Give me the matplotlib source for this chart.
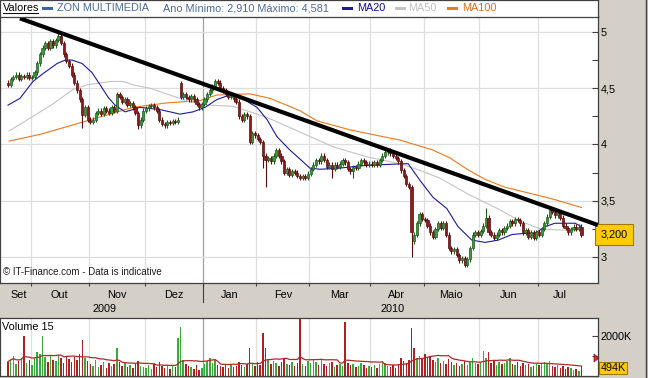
import numpy as np
import pandas as pd
import matplotlib
matplotlib.use('Agg')
import matplotlib.pyplot as plt
from matplotlib.patches import Rectangle, Polygon
from matplotlib.lines import Line2D
from matplotlib.ticker import FixedLocator, NullFormatter
import matplotlib.transforms as mtrans

plt.rcParams['font.family'] = ['Liberation Sans', 'DejaVu Sans']

# ---------------- data ----------------
start_date = '2009-09-18'
end_date = '2010-07-23'
holidays = ['2009-12-25', '2010-01-01', '2010-04-02', '2010-04-05']
month_names = ['Set', 'Out', 'Nov', 'Dez', 'Jan', 'Fev', 'Mar', 'Abr', 'Maio', 'Jun', 'Jul']
year_names = ['2009', '2010']

closes = [
    # Sep
    4.53, 4.58, 4.60, 4.62, 4.58, 4.61, 4.60, 4.62, 4.59,
    # Oct
    4.60, 4.64, 4.72, 4.80, 4.86, 4.90, 4.86, 4.92, 4.88, 4.93, 4.96, 4.90,
    4.80, 4.74, 4.70, 4.62, 4.55, 4.48, 4.40, 4.26, 4.33, 4.22,
    # Nov
    4.20, 4.22, 4.28, 4.30, 4.27, 4.32, 4.30, 4.28, 4.33, 4.30, 4.45, 4.42,
    4.38, 4.40, 4.35, 4.37, 4.33, 4.28, 4.17, 4.22, 4.30,
    # Dec
    4.32, 4.34, 4.35, 4.33, 4.30, 4.22, 4.18, 4.17, 4.20, 4.19, 4.21, 4.20,
    4.22, 4.42, 4.45, 4.42, 4.40, 4.43, 4.40, 4.36, 4.33, 4.36,
    # Jan
    4.40, 4.45, 4.48, 4.52, 4.56, 4.55, 4.50, 4.48, 4.45, 4.42, 4.43, 4.40,
    4.38, 4.25, 4.22, 4.27, 4.25, 4.02, 4.10, 4.08,
    # Feb
    4.05, 4.02, 3.90, 3.86, 3.88, 3.85, 3.90, 3.95, 3.90, 3.85, 3.75, 3.78,
    3.73, 3.76, 3.75, 3.72, 3.70, 3.72, 3.70, 3.74,
    # Mar
    3.78, 3.82, 3.86, 3.85, 3.90, 3.86, 3.80, 3.82, 3.78, 3.82, 3.80, 3.83,
    3.86, 3.84, 3.78, 3.76, 3.80, 3.79, 3.83, 3.86, 3.84, 3.82, 3.83,
    # Apr
    3.82, 3.84, 3.82, 3.86, 3.90, 3.93, 3.95, 3.92, 3.90, 3.88, 3.85, 3.77,
    3.72, 3.65, 3.62, 3.22, 3.20, 3.30, 3.38, 3.34,
    # May
    3.33, 3.28, 3.22, 3.18, 3.25, 3.30, 3.26, 3.30, 3.20, 3.08, 3.05, 3.07,
    3.02, 2.97, 2.99, 2.93, 2.98, 3.08, 3.20, 3.22, 3.20,
    # Jun
    3.23, 3.28, 3.35, 3.22, 3.20, 3.17, 3.20, 3.24, 3.22, 3.26, 3.28, 3.32,
    3.30, 3.34, 3.33, 3.30, 3.22, 3.24, 3.18, 3.22, 3.17, 3.22,
    # Jul
    3.20, 3.25, 3.30, 3.36, 3.42, 3.40, 3.37, 3.39, 3.35, 3.28, 3.26, 3.22,
    3.25, 3.27, 3.25, 3.27, 3.20,
]
first_open = 4.55
gap_opens = {65: 4.55, 153: 3.14}
high_values = {19: 5.00, 65: 4.56, 78: 4.58, 180: 3.44}
low_values = {28: 4.15, 49: 4.14, 96: 3.79, 97: 3.62, 122: 3.70, 130: 3.70, 152: 3.00, 172: 2.91}
wick_size = 0.02

volumes_k = [
    700, 850, 1000, 600, 750, 900, 2000, 650, 800,
    550, 900, 1200, 1100, 2000, 950, 700, 1000, 800, 750, 1050, 900, 650, 1000, 850,
    700, 950, 800, 1100, 1800, 900, 750,
    600, 500, 800, 450, 550, 700, 400, 650, 500, 600, 1400, 700, 500, 650, 450, 550,
    400, 600, 750, 500, 450,
    400, 550, 350, 600, 450, 700, 500, 400, 550, 350, 500, 450, 1900, 2450, 800, 600,
    500, 450, 350, 550, 300, 400,
    600, 750, 900, 650, 800, 550, 500, 450, 600, 400, 550, 450, 500, 700, 550, 450,
    600, 1400, 650, 500,
    700, 550, 2150, 1400, 800, 600, 750, 650, 500, 700, 900, 600, 550, 700, 500, 650,
    2850, 600, 500, 750,
    650, 800, 700, 550, 850, 600, 500, 650, 700, 450, 550, 600, 500, 2700, 650, 550,
    600, 450, 500, 650, 550, 400, 500,
    450, 550, 400, 600, 750, 650, 500, 450, 550, 400, 600, 900, 750, 650, 800, 2400,
    1400, 900, 1000, 850,
    1100, 950, 1000, 800, 700, 900, 650, 750, 600, 850, 700, 550, 650, 500, 600, 750,
    550, 700, 900, 650, 600,
    700, 1250, 900, 1200, 650, 800, 550, 700, 600, 650, 750, 900, 600, 550, 700, 500,
    650, 550, 600, 450, 500, 600,
    550, 650, 700, 600, 750, 500, 450, 550, 400, 500, 350, 450, 400, 300, 350, 250, 494,
]
vol_ma_window = 15

ma20_idx = [0, 4.5, 9.4, 13.2, 18.5, 21.5, 24.1, 27.9, 31.6, 34.7, 37.7, 40.3, 44.1, 49.7,
            57.3, 64.8, 69.7, 74.2, 78.7, 83.6, 88.1, 93.8, 97.6, 101.3, 106.2, 110, 113.7,
            117.5, 125, 132.6, 140.1, 150.7, 155.2, 160.1, 165.3, 169.5, 174.7, 179.7, 184.6,
            189.8, 194.7, 198.5, 202.3, 206, 213.6, 216]
ma20_val = [4.35, 4.41, 4.56, 4.63, 4.72, 4.75, 4.75, 4.72, 4.64, 4.53, 4.42, 4.35, 4.29, 4.33,
            4.31, 4.27, 4.29, 4.33, 4.40, 4.44, 4.41, 4.33, 4.22, 4.07, 3.95, 3.87, 3.79,
            3.78, 3.79, 3.81, 3.82, 3.83, 3.68, 3.53, 3.43, 3.27, 3.15, 3.13, 3.15,
            3.20, 3.21, 3.21, 3.27, 3.30, 3.30, 3.27]
ma50_idx = [0.4, 9.4, 16.9, 24.5, 29.8, 38.4, 43.3, 47.1, 53.5, 61, 68.5, 75, 84.7, 97.6, 110,
            122.4, 135.2, 147.6, 155.2, 162.7, 174, 185.3, 192.8, 200.4, 207.9, 216]
ma50_val = [4.12, 4.25, 4.36, 4.49, 4.53, 4.56, 4.56, 4.53, 4.50, 4.44, 4.38, 4.35, 4.34, 4.24,
            4.11, 3.98, 3.89, 3.83, 3.77, 3.70, 3.55, 3.42, 3.32, 3.25, 3.24, 3.24]
ma100_idx = [0.4, 12.1, 28.2, 47.1, 59.9, 72.3, 78.7, 91.1, 98.7, 110, 116.4, 128.8, 141.2,
             147.6, 160.1, 166.5, 172.9, 179.7, 187.2, 195.9, 206, 216]
ma100_val = [4.03, 4.09, 4.20, 4.33, 4.37, 4.39, 4.44, 4.45, 4.41, 4.30, 4.21, 4.13, 4.07,
             4.04, 3.95, 3.88, 3.78, 3.69, 3.62, 3.57, 3.51, 3.44]

trend_idx = [4.5, 222.2]
trend_val = [5.121, 3.284]

price_ticks = [3, 3.5, 4, 4.5, 5]
price_minor = [3.25, 3.75, 4.25, 4.75]
vol_ticks = [2000]
vol_minor = [1000]

# ---------------- derived ----------------
dates = pd.bdate_range(start_date, end_date)
dates = dates[~dates.isin(pd.to_datetime(holidays))]
n = len(closes)
idx = np.arange(n)
closes_a = np.array(closes)
opens_a = np.concatenate([[first_open], closes_a[:-1]])
for k, v in gap_opens.items():
    opens_a[k] = v
highs_a = np.maximum(opens_a, closes_a) + wick_size
lows_a = np.minimum(opens_a, closes_a) - wick_size
for k, v in high_values.items():
    highs_a[k] = v
for k, v in low_values.items():
    lows_a[k] = v
vols = np.array(volumes_k, dtype=float)
vol_ma = pd.Series(vols).rolling(vol_ma_window, min_periods=1).mean().values

months = pd.Series(dates.to_period('M'))
month_start = [i for i in range(n) if i == 0 or months[i] != months[i - 1]]
boundaries = [s - 0.5 for s in month_start[1:]]
spans = list(zip([s - 0.5 for s in month_start], [e - 0.5 for e in month_start[1:]] + [n - 0.5]))
year_change = [i for i in range(1, n) if dates[i].year != dates[i - 1].year][0] - 0.5

# ---------------- layout ----------------
BG = '#d4d0c8'
W, H = 648, 378
fig = plt.figure(figsize=(W / 100, H / 100), dpi=100, facecolor=BG)


def fax(l, t, r, b):
    return [l / W, 1 - b / H, (r - l) / W, (b - t) / H]


ax = fig.add_axes(fax(0, 16, 598, 283))
axv = fig.add_axes(fax(0, 318, 598, 375.5))
axl = fig.add_axes(fax(0, 0, 598, 16.5))

FS = 7.8
SPINE = '#404040'
GRID = '#dedede'

# ---- price panel ----
ax.set_facecolor('white')
ax.set_xlim((0 - 8) / 2.655, (598 - 8) / 2.655)
ax.set_ylim(2.769, 5.142)
for b in boundaries:
    ax.axvline(b, color='#a0a0a0' if b == year_change else GRID, lw=0.9, zorder=0)
for t in price_ticks:
    ax.axhline(t, color=GRID, lw=0.9, zorder=0)

ax.plot(ma100_idx, ma100_val, color='#f07818', lw=0.8, zorder=2)
ax.plot(ma50_idx, ma50_val, color='#c4c4c4', lw=0.8, zorder=2)
ax.plot(ma20_idx, ma20_val, color='#1a1aa0', lw=0.8, zorder=2)

up = closes_a >= opens_a
body_col = np.where(up, '#3a9a3a', '#8c1c1c')
edge_col = np.where(up, '#1e5a1e', '#5a0e0e')
ax.vlines(idx, lows_a, highs_a, colors=edge_col, lw=0.8, zorder=3)
ax.bar(idx, np.maximum(np.abs(closes_a - opens_a), 0.006),
       bottom=np.minimum(opens_a, closes_a), width=0.8,
       color=body_col, edgecolor=edge_col, lw=0.5, zorder=4)

ax.plot(trend_idx, trend_val, color='black', lw=3.0, solid_capstyle='butt', zorder=5)

ax.yaxis.tick_right()
ax.yaxis.set_major_locator(FixedLocator(price_ticks))
ax.yaxis.set_minor_locator(FixedLocator(price_minor))
ax.set_yticklabels([('%g' % t).replace('.', ',') for t in price_ticks])
ax.tick_params(axis='y', which='both', direction='in', length=4, width=0.8,
               color=SPINE, labelsize=FS, pad=2)
ax.xaxis.set_major_locator(FixedLocator(boundaries))
ax.xaxis.set_major_formatter(NullFormatter())
ax.tick_params(axis='x', which='major', direction='out', length=2.5, width=0.8, color=SPINE)
for s in ax.spines.values():
    s.set_color(SPINE)
    s.set_linewidth(0.9)

# month and year labels below the price panel
for name, (a, b) in zip(month_names, spans):
    ax.annotate(name, xy=((a + b) / 2, 0), xycoords=('data', 'axes fraction'),
                xytext=(0, -8.8), textcoords='offset points', ha='center', va='center',
                fontsize=FS, annotation_clip=False)
year_spans = [(-0.5, year_change), (year_change, n - 0.5)]
for name, (a, b) in zip(year_names, year_spans):
    ax.annotate(name, xy=((a + b) / 2, 0), xycoords=('data', 'axes fraction'),
                xytext=(0, -18.8), textcoords='offset points', ha='center', va='center',
                fontsize=FS, annotation_clip=False)
ax.plot([year_change, year_change], [0, -19 / 267], color=SPINE, lw=0.8,
        transform=ax.get_xaxis_transform(), clip_on=False)

ax.text(3 / 598, 11 / 267, '\u00a9 IT-Finance.com - Data is indicative', transform=ax.transAxes,
        fontsize=7, va='center', ha='left', color='#202020')

last_txt = ('%.3f' % closes_a[-1]).replace('.', ',')
ax.text(1.004, closes_a[-1], last_txt, transform=mtrans.blended_transform_factory(ax.transAxes, ax.transData),
        ha='left', va='center', fontsize=FS, clip_on=False,
        bbox=dict(boxstyle='square,pad=0.5', fc='#ffcc00', ec='#9a7a00', lw=0.8))

# ---- volume panel ----
axv.set_facecolor('white')
axv.set_xlim(ax.get_xlim())
axv.set_ylim(0, 2880)
for b in boundaries:
    axv.axvline(b, color='#a0a0a0' if b == year_change else GRID, lw=0.9, zorder=0)
prev = np.concatenate([[opens_a[0]], closes_a[:-1]])
vcol = np.where(closes_a >= prev, '#3aaa3a', '#b02020')
axv.bar(idx, vols, width=0.55, color=vcol, zorder=2)
axv.plot(idx, vol_ma, color='#b02828', lw=0.9, zorder=3)
axv.yaxis.tick_right()
axv.yaxis.set_major_locator(FixedLocator(vol_ticks))
axv.yaxis.set_minor_locator(FixedLocator(vol_minor))
axv.set_yticklabels(['%dK' % t for t in vol_ticks])
axv.tick_params(axis='y', which='both', direction='in', length=4, width=0.8,
                color=SPINE, labelsize=FS, pad=2)
axv.set_xticks([])
for s in axv.spines.values():
    s.set_color(SPINE)
    s.set_linewidth(0.9)
axv.text(2 / 598, 0.84, 'Volume %d' % vol_ma_window, transform=axv.transAxes,
         fontsize=FS, va='center', ha='left')
axv.text(1.004, vols[-1] - 120, '%dK' % vols[-1],
         transform=mtrans.blended_transform_factory(axv.transAxes, axv.transData),
         ha='left', va='center', fontsize=FS, clip_on=False,
         bbox=dict(boxstyle='square,pad=0.12', fc='#ffcc00', ec='#9a7a00', lw=0.8))
tri_px = [(594, 354), (599, 358), (594, 362)]
fig.add_artist(Polygon([(x / W, 1 - y / H) for x, y in tri_px], closed=True,
                       fc='#c03030', ec='#802020', lw=0.5, transform=fig.transFigure))

# ---- legend row ----
axl.set_xlim(0, 598)
axl.set_ylim(16.5, 0)
axl.set_facecolor('white')
axl.set_xticks([])
axl.set_yticks([])
for s in axl.spines.values():
    s.set_color(SPINE)
    s.set_linewidth(0.9)
ty = 8.3
axl.text(3, ty, 'Valores', fontsize=FS, va='center', ha='left', color='black')
axl.plot([3, 38], [13.2, 13.2], color='black', lw=0.7)
items = [
    (42, 57, 'ZON MULTIMEDIA', '#3c64a0', '#4a6a9a'),
    (342, 357, 'MA20', '#1a1aa0', '#10108c'),
    (395, 408, 'MA50', '#c4c4c4', '#c0c0c0'),
    (447, 462, 'MA100', '#f07818', '#e06c18'),
]
for mx, tx, label, mcol, tcol in items:
    axl.add_patch(Rectangle((mx, 6.8), 11, 3.6, fc=mcol, ec='none'))
    axl.text(tx, ty, label, fontsize=FS, va='center', ha='left', color=tcol)
axl.text(163, ty, 'Ano M\u00ednimo: 2,910 M\u00e1ximo: 4,581', fontsize=FS, va='center',
         ha='left', color='#4a6a9a')

# right frame line
fig.add_artist(Line2D([645.5 / W, 645.5 / W], [0, 1], color=SPINE, lw=1.0,
                      transform=fig.transFigure))

fig.savefig('out.png', dpi=100, facecolor=BG)
